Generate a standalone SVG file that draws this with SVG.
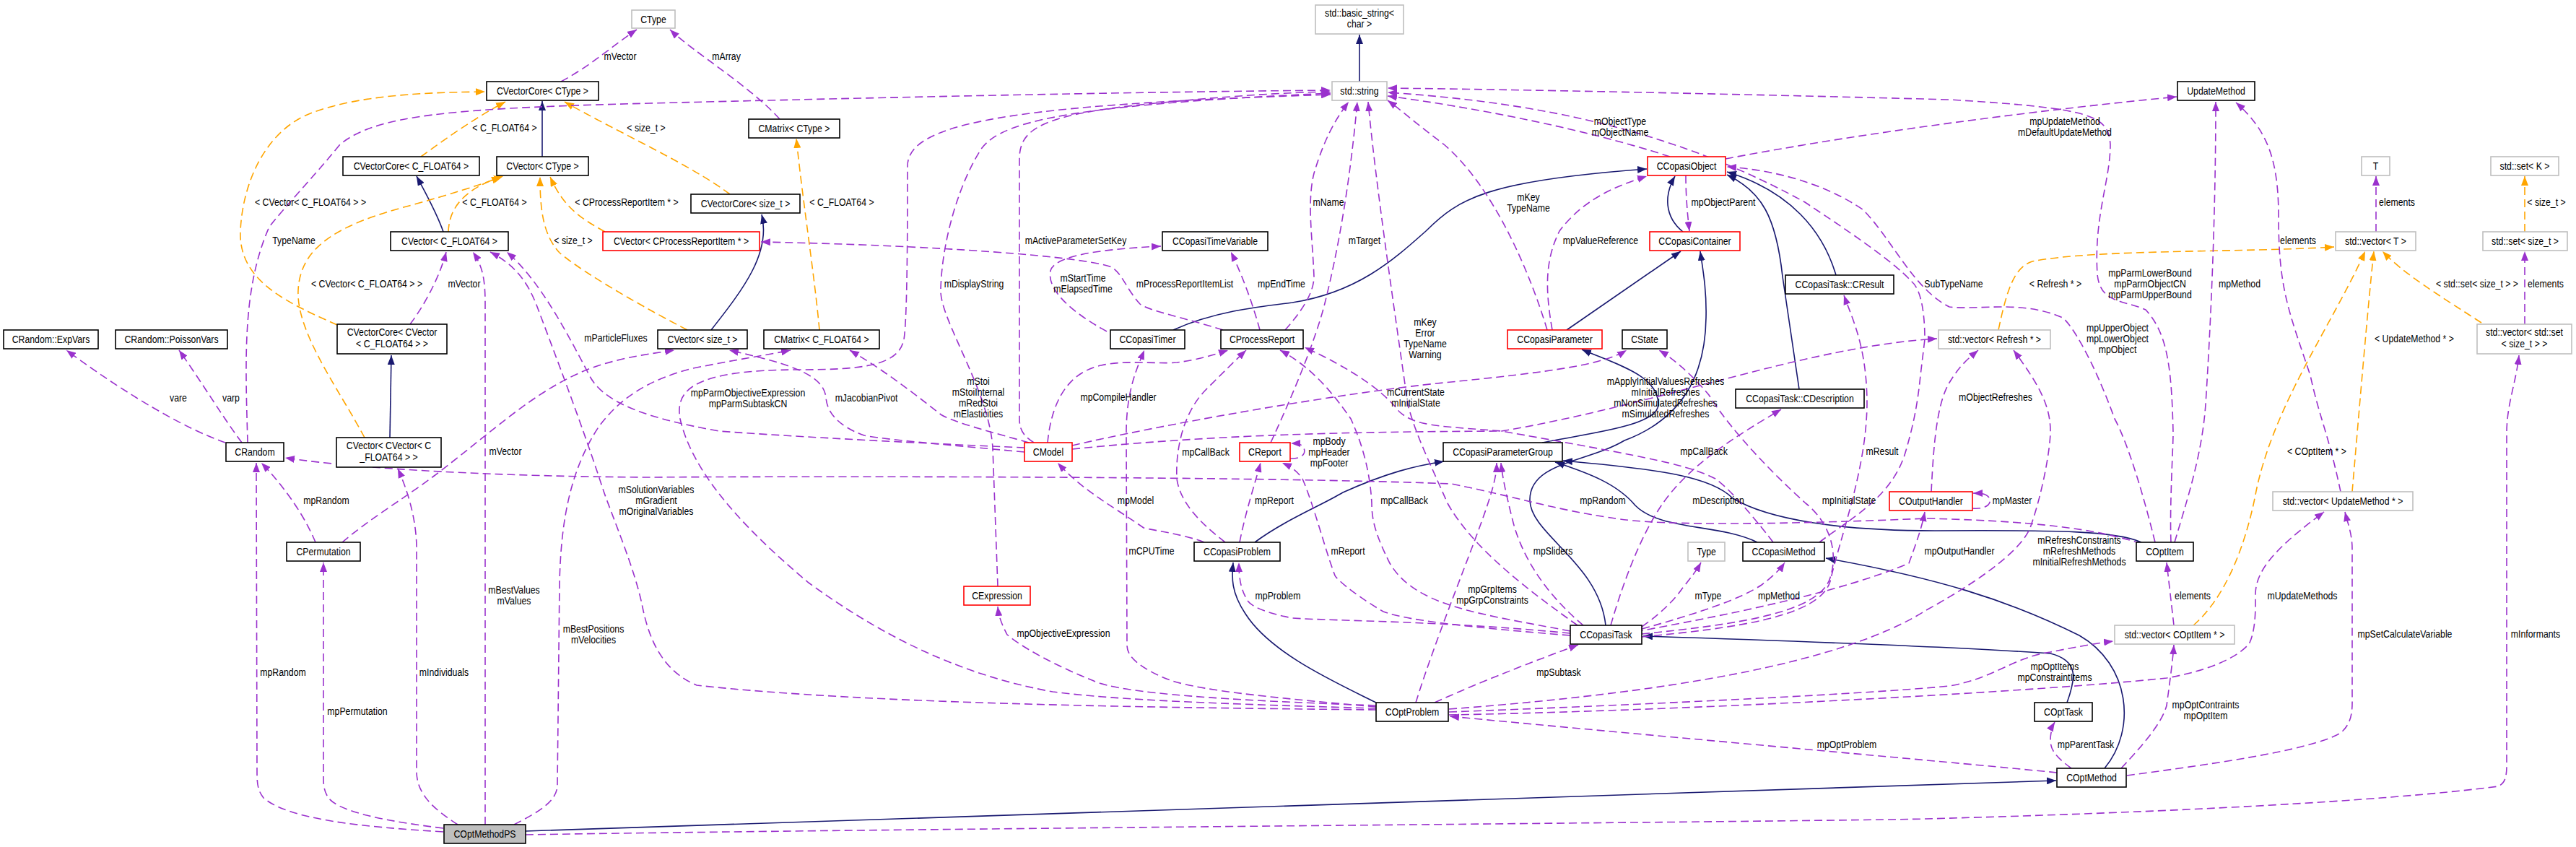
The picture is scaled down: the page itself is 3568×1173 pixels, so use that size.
<svg xmlns="http://www.w3.org/2000/svg" width="3568" height="1173" viewBox="0 0 3568 1173">
<style>
text{font-family:"Liberation Sans",Arial,Helvetica,sans-serif;font-size:15px;fill:#000;text-anchor:middle}
.node rect{fill:#fff;stroke:#000;stroke-width:1.6}
.node.r rect{stroke:#ff0000}
.node.g rect{stroke:#bfbfbf}
.node.ps rect{fill:#bfbfbf}
.e{fill:none;stroke:#9a32cd;stroke-width:1.6;stroke-dasharray:11 6;marker-end:url(#ap)}
.n{fill:none;stroke:#191970;stroke-width:1.6;marker-end:url(#an)}
.o{fill:none;stroke:#ffa500;stroke-width:1.6;stroke-dasharray:11 6;marker-end:url(#ao)}
</style>
<defs>
<marker id="ap" markerUnits="userSpaceOnUse" markerWidth="14" markerHeight="10" refX="13" refY="5" orient="auto"><path d="M0,0L13,5L0,10z" fill="#9a32cd"/></marker>
<marker id="an" markerUnits="userSpaceOnUse" markerWidth="14" markerHeight="10" refX="13" refY="5" orient="auto"><path d="M0,0L13,5L0,10z" fill="#191970"/></marker>
<marker id="ao" markerUnits="userSpaceOnUse" markerWidth="14" markerHeight="10" refX="13" refY="5" orient="auto"><path d="M0,0L13,5L0,10z" fill="#ffa500"/></marker>
</defs>
<rect width="3568" height="1173" fill="#fff"/>
<g id="connectors">
<path class="n" d="M1883,113 L1883,48"/>
<path class="n" d="M751,217 L751,140"/>
<path class="n" d="M614,321 C605,295 590,268 577,244"/>
<path class="n" d="M540,606 L542,492"/>
<path class="n" d="M985,457 C1030,400 1068,350 1055,297"/>
<path class="n" d="M2331,321 C2305,300 2305,270 2320,244"/>
<path class="n" d="M2170,457 L2328,348"/>
<path class="n" d="M1625,457 C1680,432 1740,425 1790,419 C1880,405 1930,360 1975,320 C2020,275 2060,250 2281,234"/>
<path class="n" d="M2543,381 C2525,320 2480,265 2392,238"/>
<path class="n" d="M2492,539 L2469,383 C2460,300 2440,265 2392,242"/>
<path class="n" d="M2224,866 C2215,780 2120,740 2119,693 C2118,640 2200,640 2250,610 C2330,580 2362,520 2363,440 C2364,400 2358,370 2355,348"/>
<path class="n" d="M2136,613 C2200,600 2297,590 2297,560 C2297,520 2240,505 2191,484"/>
<path class="n" d="M1738,751 C1780,720 1830,700 1860,682 C1920,655 1960,645 2000,639"/>
<path class="n" d="M2434,751 C2380,725 2300,735 2265,700 C2240,670 2200,655 2154,640"/>
<path class="n" d="M2966,751 C2930,735 2850,734 2680,735 C2550,735 2450,720 2400,690 C2370,660 2300,650 2165,638"/>
<path class="n" d="M2863,973 C2875,940 2880,915 2840,905 C2700,895 2400,885 2276,881"/>
<path class="n" d="M2915,1064 C2960,1010 2950,920 2880,880 C2780,830 2680,800 2529,773"/>
<path class="n" d="M1906,973 C1850,945 1760,905 1725,850 C1705,820 1706,800 1708,779"/>
<path class="n" d="M728,1151 L2848,1081"/>
<path class="o" d="M583,217 C620,190 660,162 700,141"/>
<path class="o" d="M1011,269 C960,230 850,180 782,141"/>
<path class="o" d="M467,450 C400,420 330,390 333,320 C336,250 370,180 430,157 C500,130 600,128 672,127"/>
<path class="o" d="M621,321 C622,290 640,262 697,244"/>
<path class="o" d="M505,606 C470,540 410,460 413,402 C416,340 470,310 574,283 C620,270 660,258 694,245"/>
<path class="o" d="M952,457 C900,430 810,380 775,350 C752,325 748,290 748,245"/>
<path class="o" d="M838,321 C800,300 780,285 762,245"/>
<path class="o" d="M1135,457 C1128,380 1112,280 1103,192"/>
<path class="o" d="M2768,457 C2780,400 2790,370 2815,362 C2900,345 3100,350 3233,342"/>
<path class="o" d="M3038,866 C3080,830 3110,760 3125,680 C3150,560 3230,450 3276,348"/>
<path class="o" d="M3258,681 C3265,600 3280,420 3288,348"/>
<path class="o" d="M3437,447 C3380,410 3330,380 3300,348"/>
<path class="o" d="M3497,321 L3497,244"/>
<path class="e" d="M777,113 C820,90 850,62 882,41"/>
<path class="e" d="M1080,165 C1040,120 960,72 928,41"/>
<path class="e" d="M343,613 C340,500 335,400 373,314 C400,280 430,250 471,200 C520,160 620,150 900,143 C1300,133 1600,127 1843,125"/>
<path class="e" d="M1432,613 C1420,605 1412,598 1412,580 L1412,220 C1412,180 1440,160 1580,145 C1700,133 1780,128 1843,127"/>
<path class="e" d="M1382,812 L1375,620 C1370,540 1300,440 1303,400 C1305,330 1330,250 1360,205 C1390,165 1500,145 1843,129"/>
<path class="e" d="M1906,981 C1700,975 1550,970 1458,958 C1330,935 1220,880 1120,807 C1040,740 960,660 942,580 C935,540 960,512 1108,512 C1200,512 1245,505 1252,470 C1257,440 1257,300 1257,230 C1257,170 1400,145 1843,131"/>
<path class="e" d="M712,1142 C745,1125 772,1110 772,1087 L775,807 C777,720 790,650 830,590 C860,550 900,525 960,510 C1020,498 1060,492 1095,485"/>
<path class="e" d="M672,1142 L672,420 C672,385 668,368 655,349"/>
<path class="e" d="M634,1142 C600,1120 578,1100 577,1070 L577,760 C577,720 565,680 551,649"/>
<path class="e" d="M614,1147 C540,1138 470,1125 455,1105 C448,1095 448,1085 448,1075 L448,779"/>
<path class="e" d="M614,1152 C500,1145 400,1135 365,1105 C357,1095 356,1085 356,1070 L355,641"/>
<path class="e" d="M437,751 C420,710 390,670 362,641"/>
<path class="e" d="M474,751 C510,720 560,690 600,660 C680,600 740,540 818,510 C860,495 900,490 934,485"/>
<path class="e" d="M312,613 C260,595 180,550 92,485"/>
<path class="e" d="M335,613 C310,580 280,530 248,485"/>
<path class="e" d="M568,449 C590,420 610,380 618,349"/>
<path class="e" d="M1419,620 C1300,615 1100,605 996,597 C900,580 840,560 818,523 C790,470 750,390 702,349"/>
<path class="e" d="M1906,983 C1600,980 1200,975 965,949 C920,930 900,890 890,841 C880,790 850,720 836,680 C810,600 780,520 746,430 C735,400 720,370 679,349"/>
<path class="e" d="M1419,626 C1300,615 1220,608 1197,603 C1160,590 1145,570 1144,550 C1140,520 1100,505 1010,485"/>
<path class="e" d="M1425,613 C1380,600 1320,585 1303,574 C1260,540 1220,510 1177,485"/>
<path class="e" d="M1451,613 C1455,570 1470,530 1505,513 C1540,495 1600,505 1630,502 C1660,498 1680,492 1701,485"/>
<path class="e" d="M1485,617 C1600,590 1850,545 2000,530 C2150,515 2220,505 2253,485"/>
<path class="e" d="M1485,622 C1700,600 1900,598 2080,597 C2300,560 2500,480 2683,469"/>
<path class="e" d="M1533,459 C1480,430 1450,400 1455,375 C1460,355 1520,345 1608,341"/>
<path class="e" d="M1745,457 C1735,420 1720,380 1705,349"/>
<path class="e" d="M1694,457 C1640,440 1590,430 1579,421 C1560,400 1555,380 1540,370 C1500,355 1300,340 1054,335"/>
<path class="e" d="M1780,457 C1795,440 1820,410 1820,383 C1818,330 1810,280 1820,240 C1835,190 1850,165 1868,141"/>
<path class="e" d="M1760,613 C1780,570 1820,480 1835,420 C1855,340 1870,250 1880,141"/>
<path class="e" d="M2185,866 C2120,820 2040,760 2005,697 C1980,640 1960,600 1950,560 C1930,420 1905,250 1895,141"/>
<path class="e" d="M2143,457 C2120,380 2070,260 2000,200 C1960,170 1940,152 1922,139"/>
<path class="e" d="M2150,457 C2140,400 2140,360 2160,320 C2190,280 2230,260 2281,244"/>
<path class="e" d="M2313,217 C2200,180 2050,150 1922,133"/>
<path class="e" d="M2335,243 C2335,270 2337,295 2340,320"/>
<path class="e" d="M2390,220 C2600,180 2850,150 3015,134"/>
<path class="e" d="M3007,751 C3005,700 3010,620 3010,600 C3008,500 3000,460 2972,429 C2940,415 2909,420 2905,380 C2900,300 2923,250 2923,200 C2920,160 2900,150 2700,138 C2400,130 2100,124 1922,122"/>
<path class="e" d="M2985,751 C2960,650 2940,600 2929,580 C2900,500 2870,450 2857,440 C2800,415 2740,430 2700,425 C2650,400 2620,330 2580,290 C2520,250 2450,235 2392,231"/>
<path class="e" d="M3012,751 C3030,690 3050,630 3055,560 C3062,450 3069,300 3069,141"/>
<path class="e" d="M2966,753 C2920,738 2850,722 2668,718 C2500,725 2300,730 2231,717 C2150,705 2100,688 2010,670 C1700,658 1000,660 900,661 C700,660 500,650 395,634"/>
<path class="e" d="M3011,866 L3001,779"/>
<path class="e" d="M3242,681 C3225,600 3213,580 3200,520 C3170,430 3156,400 3156,300 C3156,220 3140,180 3097,142"/>
<path class="e" d="M3291,321 L3291,244"/>
<path class="e" d="M3497,449 L3497,348"/>
<path class="e" d="M2675,681 C2678,620 2682,560 2700,530 C2715,505 2728,495 2740,485"/>
<path class="e" d="M2732,704 C2752,706 2760,696 2755,689 C2751,684 2745,683 2733,683"/>
<path class="e" d="M1787,635 C1805,636 1810,626 1805,619 C1801,614 1796,614 1788,614"/>
<path class="e" d="M2265,875 C2400,850 2550,820 2644,780 C2655,750 2662,730 2666,709"/>
<path class="e" d="M2007,982 C2300,960 2550,920 2668,845 C2750,800 2800,760 2812,731 C2830,680 2840,620 2840,597 C2840,560 2822,530 2789,485"/>
<path class="e" d="M2007,986 C2300,975 2600,960 2700,950 C2760,940 2790,910 2840,903 C2880,895 2910,890 2927,888"/>
<path class="e" d="M2007,990 C2300,985 2800,960 3001,939 C3080,925 3110,900 3116,890 C3125,870 3124,840 3124,822 C3125,790 3150,760 3219,709"/>
<path class="e" d="M1987,973 C2060,940 2140,910 2186,893"/>
<path class="e" d="M1961,973 C1990,880 2040,760 2060,700 C2070,670 2073,655 2073,641"/>
<path class="e" d="M1906,977 C1700,970 1550,960 1515,943 C1470,925 1420,900 1395,879 C1385,860 1383,850 1382,840"/>
<path class="e" d="M1906,979 C1750,965 1650,955 1613,939 C1580,925 1561,910 1561,894 L1560,600 C1560,540 1575,510 1585,485"/>
<path class="e" d="M2849,1070 C2700,1055 2300,1020 2008,992"/>
<path class="e" d="M2869,1064 C2850,1050 2840,1040 2840,1025 C2840,1015 2843,1005 2846,1000"/>
<path class="e" d="M2938,1064 C2970,1030 2995,1000 3001,977 C3006,940 3010,910 3011,893"/>
<path class="e" d="M2946,1074 C3050,1060 3200,1040 3242,1015 C3260,1000 3258,980 3258,960 L3258,760 C3258,740 3252,725 3248,709"/>
<path class="e" d="M728,1156 C1200,1148 2500,1138 2668,1134 C3000,1125 3300,1110 3460,1089 C3470,1085 3472,1075 3472,1060 L3472,600 C3472,560 3485,530 3489,492"/>
<path class="e" d="M2175,877 C2000,860 1850,860 1790,856 C1760,850 1735,842 1728,832 C1718,815 1716,800 1716,779"/>
<path class="e" d="M1668,751 C1640,740 1600,735 1584,731 C1540,700 1500,680 1465,641"/>
<path class="e" d="M1717,751 C1725,710 1738,670 1746,641"/>
<path class="e" d="M1697,751 C1670,730 1635,700 1630,663 C1628,620 1640,570 1670,540 C1690,520 1710,500 1726,485"/>
<path class="e" d="M2175,874 C2050,850 1960,840 1925,780 C1905,740 1900,720 1900,697 C1897,640 1880,600 1871,580 C1850,550 1820,510 1773,485"/>
<path class="e" d="M2175,880 C2050,870 1950,860 1916,847 C1870,820 1850,800 1849,797 C1835,760 1820,700 1804,663 C1795,650 1785,645 1776,641"/>
<path class="e" d="M2456,751 C2440,730 2400,680 2376,663 C2340,645 2300,636 2080,597 C1990,590 1960,590 1938,570 C1915,540 1870,510 1807,481"/>
<path class="e" d="M2520,751 C2560,720 2620,690 2639,627 C2650,590 2656,560 2660,520 L2666,470 C2666,430 2660,400 2648,390 C2620,360 2560,320 2500,280 C2300,170 2100,140 1922,128"/>
<path class="e" d="M2274,878 C2400,865 2520,850 2535,800 C2548,760 2530,720 2501,697 C2460,660 2400,600 2367,547 C2340,515 2315,495 2298,485"/>
<path class="e" d="M2231,866 C2250,800 2280,720 2319,677 C2360,630 2420,595 2467,567"/>
<path class="e" d="M2274,868 C2300,850 2320,830 2330,815 C2342,800 2350,790 2356,779"/>
<path class="e" d="M2274,871 C2350,850 2410,830 2440,810 C2460,795 2468,785 2472,779"/>
<path class="e" d="M2193,866 C2150,830 2110,780 2095,720 C2085,680 2081,660 2079,641"/>
<path class="e" d="M2274,882 C2400,870 2520,855 2535,805 C2550,740 2585,650 2586,560 C2586,480 2565,440 2554,409"/>
</g>
<g id="edge-labels">
<text transform="translate(859,83)scale(.82,1)">mVector</text>
<text transform="translate(1006,83)scale(.82,1)">mArray</text>
<text transform="translate(699,182)scale(.82,1)">&lt; C_FLOAT64 &gt;</text>
<text transform="translate(895,182)scale(.82,1)">&lt; size_t &gt;</text>
<text transform="translate(430,285)scale(.82,1)">&lt; CVector&lt; C_FLOAT64 &gt; &gt;</text>
<text transform="translate(685,285)scale(.82,1)">&lt; C_FLOAT64 &gt;</text>
<text transform="translate(868,285)scale(.82,1)">&lt; CProcessReportItem * &gt;</text>
<text transform="translate(1166,285)scale(.82,1)">&lt; C_FLOAT64 &gt;</text>
<text transform="translate(1840,285)scale(.82,1)">mName</text>
<text transform="translate(2387,285)scale(.82,1)">mpObjectParent</text>
<text transform="translate(2117,278)scale(.82,1)"><tspan x="0">mKey</tspan><tspan x="0" dy="15">TypeName</tspan></text>
<text transform="translate(3320,285)scale(.82,1)">elements</text>
<text transform="translate(3527,285)scale(.82,1)">&lt; size_t &gt;</text>
<text transform="translate(407,338)scale(.82,1)">TypeName</text>
<text transform="translate(794,338)scale(.82,1)">&lt; size_t &gt;</text>
<text transform="translate(1490,338)scale(.82,1)">mActiveParameterSetKey</text>
<text transform="translate(1890,338)scale(.82,1)">mTarget</text>
<text transform="translate(2217,338)scale(.82,1)">mpValueReference</text>
<text transform="translate(3183,338)scale(.82,1)">elements</text>
<text transform="translate(508,398)scale(.82,1)">&lt; CVector&lt; C_FLOAT64 &gt; &gt;</text>
<text transform="translate(643,398)scale(.82,1)">mVector</text>
<text transform="translate(1349,398)scale(.82,1)">mDisplayString</text>
<text transform="translate(1500,390)scale(.82,1)"><tspan x="0">mStartTime</tspan><tspan x="0" dy="15">mElapsedTime</tspan></text>
<text transform="translate(1641,398)scale(.82,1)">mProcessReportItemList</text>
<text transform="translate(1775,398)scale(.82,1)">mpEndTime</text>
<text transform="translate(2978,383)scale(.82,1)"><tspan x="0">mpParmLowerBound</tspan><tspan x="0" dy="15">mpParmObjectCN</tspan><tspan x="0" dy="15">mpParmUpperBound</tspan></text>
<text transform="translate(3102,398)scale(.82,1)">mpMethod</text>
<text transform="translate(2847,398)scale(.82,1)">&lt; Refresh * &gt;</text>
<text transform="translate(2706,398)scale(.82,1)">SubTypeName</text>
<text transform="translate(3431,398)scale(.82,1)">&lt; std::set&lt; size_t &gt; &gt;</text>
<text transform="translate(3526,398)scale(.82,1)">elements</text>
<text transform="translate(2244,173)scale(.82,1)"><tspan x="0">mObjectType</tspan><tspan x="0" dy="15">mObjectName</tspan></text>
<text transform="translate(2860,173)scale(.82,1)"><tspan x="0">mpUpdateMethod</tspan><tspan x="0" dy="15">mDefaultUpdateMethod</tspan></text>
<text transform="translate(1974,451)scale(.82,1)"><tspan x="0">mKey</tspan><tspan x="0" dy="15">Error</tspan><tspan x="0" dy="15">TypeName</tspan><tspan x="0" dy="15">Warning</tspan></text>
<text transform="translate(2933,459)scale(.82,1)"><tspan x="0">mpUpperObject</tspan><tspan x="0" dy="15">mpLowerObject</tspan><tspan x="0" dy="15">mpObject</tspan></text>
<text transform="translate(3344,474)scale(.82,1)">&lt; UpdateMethod * &gt;</text>
<text transform="translate(853,473)scale(.82,1)">mParticleFluxes</text>
<text transform="translate(247,556)scale(.82,1)">vare</text>
<text transform="translate(320,556)scale(.82,1)">varp</text>
<text transform="translate(1036,549)scale(.82,1)"><tspan x="0">mpParmObjectiveExpression</tspan><tspan x="0" dy="15">mpParmSubtaskCN</tspan></text>
<text transform="translate(1200,556)scale(.82,1)">mJacobianPivot</text>
<text transform="translate(1355,533)scale(.82,1)"><tspan x="0">mStoi</tspan><tspan x="0" dy="15">mStoiInternal</tspan><tspan x="0" dy="15">mRedStoi</tspan><tspan x="0" dy="15">mElasticities</tspan></text>
<text transform="translate(1961,548)scale(.82,1)"><tspan x="0">mCurrentState</tspan><tspan x="0" dy="15">mInitialState</tspan></text>
<text transform="translate(2307,533)scale(.82,1)"><tspan x="0">mApplyInitialValuesRefreshes</tspan><tspan x="0" dy="15">mInitialRefreshes</tspan><tspan x="0" dy="15">mNonSimulatedRefreshes</tspan><tspan x="0" dy="15">mSimulatedRefreshes</tspan></text>
<text transform="translate(2764,555)scale(.82,1)">mObjectRefreshes</text>
<text transform="translate(1549,555)scale(.82,1)">mpCompileHandler</text>
<text transform="translate(1841,616)scale(.82,1)"><tspan x="0">mpBody</tspan><tspan x="0" dy="15">mpHeader</tspan><tspan x="0" dy="15">mpFooter</tspan></text>
<text transform="translate(1670,631)scale(.82,1)">mpCallBack</text>
<text transform="translate(700,630)scale(.82,1)">mVector</text>
<text transform="translate(2607,630)scale(.82,1)">mResult</text>
<text transform="translate(2360,630)scale(.82,1)">mpCallBack</text>
<text transform="translate(3209,630)scale(.82,1)">&lt; COptItem * &gt;</text>
<text transform="translate(452,698)scale(.82,1)">mpRandom</text>
<text transform="translate(909,683)scale(.82,1)"><tspan x="0">mSolutionVariables</tspan><tspan x="0" dy="15">mGradient</tspan><tspan x="0" dy="15">mOriginalVariables</tspan></text>
<text transform="translate(1573,698)scale(.82,1)">mpModel</text>
<text transform="translate(1765,698)scale(.82,1)">mpReport</text>
<text transform="translate(1945,698)scale(.82,1)">mpCallBack</text>
<text transform="translate(2220,698)scale(.82,1)">mpRandom</text>
<text transform="translate(2380,698)scale(.82,1)">mDescription</text>
<text transform="translate(2561,698)scale(.82,1)">mpInitialState</text>
<text transform="translate(2787,698)scale(.82,1)">mpMaster</text>
<text transform="translate(1867,768)scale(.82,1)">mReport</text>
<text transform="translate(2151,768)scale(.82,1)">mpSliders</text>
<text transform="translate(1595,768)scale(.82,1)">mCPUTime</text>
<text transform="translate(2714,768)scale(.82,1)">mpOutputHandler</text>
<text transform="translate(2880,753)scale(.82,1)"><tspan x="0">mRefreshConstraints</tspan><tspan x="0" dy="15">mRefreshMethods</tspan><tspan x="0" dy="15">mInitialRefreshMethods</tspan></text>
<text transform="translate(712,822)scale(.82,1)"><tspan x="0">mBestValues</tspan><tspan x="0" dy="15">mValues</tspan></text>
<text transform="translate(1770,830)scale(.82,1)">mpProblem</text>
<text transform="translate(2067,821)scale(.82,1)"><tspan x="0">mpGrpItems</tspan><tspan x="0" dy="15">mpGrpConstraints</tspan></text>
<text transform="translate(2366,830)scale(.82,1)">mType</text>
<text transform="translate(2464,830)scale(.82,1)">mpMethod</text>
<text transform="translate(3037,830)scale(.82,1)">elements</text>
<text transform="translate(3189,830)scale(.82,1)">mUpdateMethods</text>
<text transform="translate(822,876)scale(.82,1)"><tspan x="0">mBestPositions</tspan><tspan x="0" dy="15">mVelocities</tspan></text>
<text transform="translate(1473,882)scale(.82,1)">mpObjectiveExpression</text>
<text transform="translate(3331,883)scale(.82,1)">mpSetCalculateVariable</text>
<text transform="translate(3512,883)scale(.82,1)">mInformants</text>
<text transform="translate(2846,928)scale(.82,1)"><tspan x="0">mpOptItems</tspan><tspan x="0" dy="15">mpConstraintItems</tspan></text>
<text transform="translate(392,936)scale(.82,1)">mpRandom</text>
<text transform="translate(615,936)scale(.82,1)">mIndividuals</text>
<text transform="translate(2159,936)scale(.82,1)">mpSubtask</text>
<text transform="translate(495,990)scale(.82,1)">mpPermutation</text>
<text transform="translate(3055,981)scale(.82,1)"><tspan x="0">mpOptContraints</tspan><tspan x="0" dy="15">mpOptItem</tspan></text>
<text transform="translate(2558,1036)scale(.82,1)">mpOptProblem</text>
<text transform="translate(2889,1036)scale(.82,1)">mpParentTask</text>
</g>
<g id="n-CType" class="node g"><rect x="875" y="14" width="60" height="25"/><text transform="translate(905,31.5)scale(.82,1)">CType</text></g>
<g id="n-basic_string" class="node g"><rect x="1822" y="7" width="122" height="40"/><text transform="translate(1883,23)scale(.82,1)"><tspan x="0">std::basic_string&lt;</tspan><tspan x="0" dy="15">char &gt;</tspan></text></g>
<g id="n-CVectorCore-CType" class="node"><rect x="674" y="113" width="155" height="26"/><text transform="translate(751.5,131)scale(.82,1)">CVectorCore&lt; CType &gt;</text></g>
<g id="n-CMatrix-CType" class="node"><rect x="1037" y="165" width="126" height="26"/><text transform="translate(1100,183)scale(.82,1)">CMatrix&lt; CType &gt;</text></g>
<g id="n-std-string" class="node g"><rect x="1845" y="113" width="76" height="26"/><text transform="translate(1883,131)scale(.82,1)">std::string</text></g>
<g id="n-UpdateMethod" class="node"><rect x="3016" y="113" width="107" height="26"/><text transform="translate(3069.5,131)scale(.82,1)">UpdateMethod</text></g>
<g id="n-CVectorCore-C_FLOAT64" class="node"><rect x="475" y="217" width="189" height="26"/><text transform="translate(569.5,235)scale(.82,1)">CVectorCore&lt; C_FLOAT64 &gt;</text></g>
<g id="n-CVector-CType" class="node"><rect x="688" y="217" width="127" height="26"/><text transform="translate(751.5,235)scale(.82,1)">CVector&lt; CType &gt;</text></g>
<g id="n-CCopasiObject" class="node r"><rect x="2282" y="217" width="108" height="26"/><text transform="translate(2336,235)scale(.82,1)">CCopasiObject</text></g>
<g id="n-T" class="node g"><rect x="3271" y="217" width="39" height="26"/><text transform="translate(3290.5,235)scale(.82,1)">T</text></g>
<g id="n-std-set-K" class="node g"><rect x="3450" y="217" width="94" height="26"/><text transform="translate(3497,235)scale(.82,1)">std::set&lt; K &gt;</text></g>
<g id="n-CVectorCore-size_t" class="node"><rect x="957" y="269" width="151" height="26"/><text transform="translate(1032.5,287)scale(.82,1)">CVectorCore&lt; size_t &gt;</text></g>
<g id="n-CVector-C_FLOAT64" class="node"><rect x="541" y="321" width="163" height="26"/><text transform="translate(622.5,339)scale(.82,1)">CVector&lt; C_FLOAT64 &gt;</text></g>
<g id="n-CVector-CProcessReportItem" class="node r"><rect x="835" y="321" width="217" height="26"/><text transform="translate(943.5,339)scale(.82,1)">CVector&lt; CProcessReportItem * &gt;</text></g>
<g id="n-CCopasiTimeVariable" class="node"><rect x="1610" y="321" width="146" height="26"/><text transform="translate(1683,339)scale(.82,1)">CCopasiTimeVariable</text></g>
<g id="n-CCopasiContainer" class="node r"><rect x="2285" y="321" width="125" height="26"/><text transform="translate(2347.5,339)scale(.82,1)">CCopasiContainer</text></g>
<g id="n-std-vector-T" class="node g"><rect x="3235" y="321" width="111" height="26"/><text transform="translate(3290.5,339)scale(.82,1)">std::vector&lt; T &gt;</text></g>
<g id="n-std-set-size_t" class="node g"><rect x="3439" y="321" width="117" height="26"/><text transform="translate(3497.5,339)scale(.82,1)">std::set&lt; size_t &gt;</text></g>
<g id="n-CResult" class="node"><rect x="2473" y="381" width="150" height="26"/><text transform="translate(2548,399)scale(.82,1)">CCopasiTask::CResult</text></g>
<g id="n-ExpVars" class="node"><rect x="5" y="457" width="131" height="26"/><text transform="translate(70.5,475)scale(.82,1)">CRandom::ExpVars</text></g>
<g id="n-PoissonVars" class="node"><rect x="160" y="457" width="155" height="26"/><text transform="translate(237.5,475)scale(.82,1)">CRandom::PoissonVars</text></g>
<g id="n-CVectorCore-CVector" class="node"><rect x="467" y="449" width="152" height="41"/><text transform="translate(543,465)scale(.82,1)"><tspan x="0">CVectorCore&lt; CVector</tspan><tspan x="0" dy="16">&lt; C_FLOAT64 &gt; &gt;</tspan></text></g>
<g id="n-CVector-size_t" class="node"><rect x="911" y="457" width="124" height="26"/><text transform="translate(973,475)scale(.82,1)">CVector&lt; size_t &gt;</text></g>
<g id="n-CMatrix-C_FLOAT64" class="node"><rect x="1058" y="457" width="160" height="26"/><text transform="translate(1138,475)scale(.82,1)">CMatrix&lt; C_FLOAT64 &gt;</text></g>
<g id="n-CCopasiTimer" class="node"><rect x="1538" y="457" width="103" height="26"/><text transform="translate(1589.5,475)scale(.82,1)">CCopasiTimer</text></g>
<g id="n-CProcessReport" class="node"><rect x="1691" y="457" width="114" height="26"/><text transform="translate(1748,475)scale(.82,1)">CProcessReport</text></g>
<g id="n-CCopasiParameter" class="node r"><rect x="2088" y="457" width="131" height="26"/><text transform="translate(2153.5,475)scale(.82,1)">CCopasiParameter</text></g>
<g id="n-CState" class="node"><rect x="2247" y="457" width="62" height="26"/><text transform="translate(2278,475)scale(.82,1)">CState</text></g>
<g id="n-std-vector-Refresh" class="node g"><rect x="2685" y="457" width="155" height="26"/><text transform="translate(2762.5,475)scale(.82,1)">std::vector&lt; Refresh * &gt;</text></g>
<g id="n-std-vector-set" class="node g"><rect x="3431" y="449" width="131" height="41"/><text transform="translate(3496.5,465)scale(.82,1)"><tspan x="0">std::vector&lt; std::set</tspan><tspan x="0" dy="16">&lt; size_t &gt; &gt;</tspan></text></g>
<g id="n-CDescription" class="node"><rect x="2404" y="539" width="178" height="26"/><text transform="translate(2493,557)scale(.82,1)">CCopasiTask::CDescription</text></g>
<g id="n-CRandom" class="node"><rect x="313" y="613" width="80" height="26"/><text transform="translate(353,631)scale(.82,1)">CRandom</text></g>
<g id="n-CVector-CVector" class="node"><rect x="466" y="606" width="145" height="41"/><text transform="translate(538.5,622)scale(.82,1)"><tspan x="0">CVector&lt; CVector&lt; C</tspan><tspan x="0" dy="16">_FLOAT64 &gt; &gt;</tspan></text></g>
<g id="n-CModel" class="node r"><rect x="1419" y="613" width="66" height="26"/><text transform="translate(1452,631)scale(.82,1)">CModel</text></g>
<g id="n-CReport" class="node r"><rect x="1717" y="613" width="70" height="26"/><text transform="translate(1752,631)scale(.82,1)">CReport</text></g>
<g id="n-CCopasiParameterGroup" class="node"><rect x="1999" y="613" width="165" height="26"/><text transform="translate(2081.5,631)scale(.82,1)">CCopasiParameterGroup</text></g>
<g id="n-COutputHandler" class="node r"><rect x="2617" y="681" width="115" height="26"/><text transform="translate(2674.5,699)scale(.82,1)">COutputHandler</text></g>
<g id="n-std-vector-UpdateMethod" class="node g"><rect x="3148" y="681" width="194" height="26"/><text transform="translate(3245,699)scale(.82,1)">std::vector&lt; UpdateMethod * &gt;</text></g>
<g id="n-CPermutation" class="node"><rect x="397" y="751" width="102" height="26"/><text transform="translate(448,769)scale(.82,1)">CPermutation</text></g>
<g id="n-CCopasiProblem" class="node"><rect x="1654" y="751" width="119" height="26"/><text transform="translate(1713.5,769)scale(.82,1)">CCopasiProblem</text></g>
<g id="n-Type" class="node g"><rect x="2338" y="751" width="51" height="26"/><text transform="translate(2363.5,769)scale(.82,1)">Type</text></g>
<g id="n-CCopasiMethod" class="node"><rect x="2414" y="751" width="113" height="26"/><text transform="translate(2470.5,769)scale(.82,1)">CCopasiMethod</text></g>
<g id="n-COptItem" class="node"><rect x="2959" y="751" width="79" height="26"/><text transform="translate(2998.5,769)scale(.82,1)">COptItem</text></g>
<g id="n-CExpression" class="node r"><rect x="1335" y="812" width="92" height="26"/><text transform="translate(1381,830)scale(.82,1)">CExpression</text></g>
<g id="n-CCopasiTask" class="node"><rect x="2175" y="866" width="99" height="26"/><text transform="translate(2224.5,884)scale(.82,1)">CCopasiTask</text></g>
<g id="n-std-vector-COptItem" class="node g"><rect x="2929" y="866" width="166" height="26"/><text transform="translate(3012,884)scale(.82,1)">std::vector&lt; COptItem * &gt;</text></g>
<g id="n-COptProblem" class="node"><rect x="1906" y="973" width="100" height="26"/><text transform="translate(1956,991)scale(.82,1)">COptProblem</text></g>
<g id="n-COptTask" class="node"><rect x="2818" y="973" width="80" height="26"/><text transform="translate(2858,991)scale(.82,1)">COptTask</text></g>
<g id="n-COptMethod" class="node"><rect x="2849" y="1064" width="96" height="26"/><text transform="translate(2897,1082)scale(.82,1)">COptMethod</text></g>
<g id="n-COptMethodPS" class="node ps"><rect x="615" y="1142" width="113" height="26"/><text transform="translate(671.5,1160)scale(.82,1)">COptMethodPS</text></g>
</svg>
